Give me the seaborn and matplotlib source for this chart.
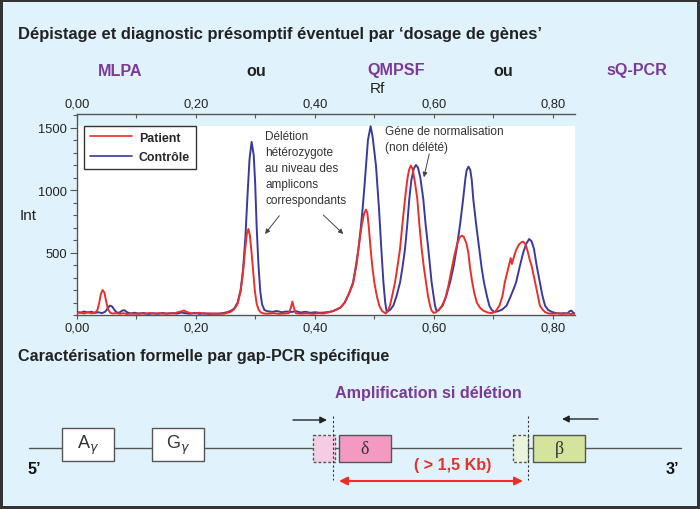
import matplotlib
matplotlib.use("Agg")
import matplotlib.pyplot as plt
from matplotlib.patches import Rectangle
from matplotlib.lines import Line2D
from matplotlib.ticker import MultipleLocator, FixedLocator, FixedFormatter
import seaborn as sns
import pandas as pd

# ---------------- data ----------------
series_names = ["Patient", "Contrôle"]

patient_rf = [0.000, 0.006, 0.012, 0.018, 0.024, 0.030, 0.034, 0.037, 0.040, 0.043, 0.046, 0.049, 0.052, 0.056,
              0.060, 0.066, 0.072, 0.078, 0.084, 0.090, 0.098, 0.106, 0.114, 0.122, 0.130, 0.138, 0.146, 0.154,
              0.162, 0.170, 0.176, 0.180, 0.184, 0.190, 0.198, 0.206, 0.214, 0.222, 0.230, 0.238, 0.246, 0.252,
              0.258, 0.264, 0.270, 0.275, 0.279, 0.2825, 0.2855, 0.288, 0.2905, 0.293, 0.296, 0.299, 0.302,
              0.305, 0.309, 0.314, 0.320, 0.330, 0.340, 0.350, 0.356, 0.359, 0.362, 0.365, 0.368, 0.376, 0.386,
              0.396, 0.406, 0.414, 0.422, 0.430, 0.436, 0.443, 0.450, 0.457, 0.464, 0.470, 0.475, 0.479, 0.4825,
              0.4857, 0.488, 0.4905, 0.4935, 0.4965, 0.4997, 0.504, 0.508, 0.513, 0.519, 0.522, 0.526, 0.530,
              0.5345, 0.539, 0.5429, 0.547, 0.5513, 0.555, 0.558, 0.561, 0.564, 0.568, 0.572, 0.5755, 0.5793,
              0.583, 0.5866, 0.590, 0.5933, 0.596, 0.599, 0.603, 0.608, 0.613, 0.619, 0.624, 0.629, 0.634, 0.639,
              0.643, 0.647, 0.650, 0.654, 0.6577, 0.6605, 0.664, 0.668, 0.672, 0.677, 0.683, 0.690, 0.697, 0.703,
              0.710, 0.715, 0.719, 0.723, 0.727, 0.729, 0.731, 0.734, 0.738, 0.743, 0.747, 0.750, 0.754, 0.758,
              0.761, 0.764, 0.767, 0.770, 0.7726, 0.775, 0.778, 0.783, 0.787, 0.793, 0.800, 0.808, 0.816, 0.824,
              0.830, 0.837]
patient_int = [15, 20, 12, 22, 14, 18, 35, 90, 165, 200, 180, 110, 45, 18,
               12, 15, 10, 14, 8, 12, 9, 14, 10, 16, 11, 15, 10, 14,
               12, 22, 30, 36, 25, 15, 12, 18, 10, 14, 9, 12, 10, 16,
               25, 45, 90, 190, 340, 520, 650, 688, 640, 520, 350, 190, 90,
               45, 20, 12, 10, 14, 9, 12, 15, 50, 107, 50, 14, 10, 13,
               9, 14, 12, 20, 32, 45, 60, 100, 170, 250, 410, 600, 730, 810,
               843, 815, 700, 528, 380, 261, 150, 75, 30, 12, 30, 75, 160,
               261, 400, 528, 730, 928, 1080, 1160, 1195, 1170, 1060, 928, 720, 528,
               380, 261, 150, 75, 35, 18, 20, 40, 70, 130, 230, 350, 470, 570,
               620, 635, 625, 580, 500, 380, 270, 170, 100, 60, 35, 20, 15, 25,
               75, 150, 261, 340, 420, 455, 408, 460, 520, 565, 582, 587, 565, 500,
               440, 395, 330, 261, 200, 140, 75, 40, 22, 12, 10, 14, 9, 12,
               8, 10]

controle_rf = [0.000, 0.006, 0.012, 0.018, 0.024, 0.030, 0.036, 0.042, 0.047, 0.051, 0.055, 0.059, 0.063, 0.067,
               0.071, 0.076, 0.080, 0.084, 0.090, 0.097, 0.104, 0.112, 0.120, 0.128, 0.136, 0.144, 0.152, 0.160,
               0.168, 0.176, 0.182, 0.190, 0.198, 0.206, 0.214, 0.222, 0.230, 0.238, 0.246, 0.252, 0.258, 0.264,
               0.270, 0.275, 0.279, 0.283, 0.2865, 0.290, 0.2935, 0.297, 0.2995, 0.302, 0.305, 0.308, 0.311,
               0.315, 0.320, 0.328, 0.336, 0.344, 0.352, 0.360, 0.368, 0.376, 0.384, 0.392, 0.400, 0.408, 0.416,
               0.424, 0.430, 0.436, 0.443, 0.450, 0.457, 0.464, 0.469, 0.473, 0.477, 0.480, 0.483, 0.4857, 0.489,
               0.4935, 0.497, 0.500, 0.5025, 0.505, 0.5076, 0.5115, 0.515, 0.518, 0.5205, 0.526, 0.5317, 0.537,
               0.543, 0.547, 0.5513, 0.555, 0.5585, 0.562, 0.566, 0.5697, 0.573, 0.577, 0.582, 0.586, 0.5905,
               0.596, 0.6017, 0.6045, 0.608, 0.6145, 0.621, 0.627, 0.633, 0.638, 0.644, 0.649, 0.653, 0.655,
               0.658, 0.661, 0.6635, 0.666, 0.671, 0.676, 0.680, 0.684, 0.689, 0.693, 0.697, 0.701, 0.708, 0.715,
               0.722, 0.728, 0.734, 0.738, 0.7445, 0.750, 0.755, 0.760, 0.764, 0.768, 0.7726, 0.778, 0.782,
               0.7866, 0.792, 0.798, 0.805, 0.812, 0.818, 0.824, 0.828, 0.831, 0.834, 0.837]
controle_int = [25, 18, 28, 20, 26, 17, 22, 15, 25, 48, 75, 68, 40, 20,
                18, 35, 38, 22, 12, 18, 10, 16, 8, 14, 9, 16, 10, 15,
                11, 20, 14, 10, 17, 9, 14, 8, 12, 10, 16, 22, 32, 50,
                100, 200, 360, 620, 950, 1250, 1385, 1280, 1050, 700, 400, 190, 85,
                40, 30, 25, 32, 22, 28, 24, 30, 20, 26, 18, 22, 18, 20,
                25, 30, 42, 60, 100, 170, 261, 400, 528, 700, 848, 1020, 1195, 1400,
                1510, 1420, 1300, 1195, 1020, 848, 528, 261, 100, 25, 40, 75, 150,
                261, 380, 528, 720, 928, 1080, 1170, 1200, 1180, 1100, 928, 720, 528,
                261, 75, 30, 40, 75, 160, 261, 390, 528, 730, 928, 1100, 1160,
                1187, 1160, 1080, 928, 720, 528, 380, 261, 150, 75, 40, 25, 30, 45,
                75, 140, 210, 261, 395, 500, 570, 608, 590, 530, 395, 261, 160,
                75, 40, 25, 15, 12, 15, 12, 30, 35, 18, 12]

x_ticks = [0.0, 0.2, 0.4, 0.6, 0.8]
x_tick_labels = ["0,00", "0,20", "0,40", "0,60", "0,80"]
y_ticks = [500, 1000, 1500]
y_tick_labels = ["500", "1000", "1500"]

methods = ["MLPA", "ou", "QMPSF", "ou", "sQ-PCR"]

# ---------------- style ----------------
BG = "#e0f3fc"
RED = "#ea2f2b"
BLUE = "#3a3a9c"
PURPLE = "#7a3a96"
AXC = "#555555"
HEAD = 11.6

sns.set_theme(style="white")
plt.rcParams["font.family"] = ["Liberation Sans", "DejaVu Sans"]
plt.rcParams["mathtext.fontset"] = "dejavusans"

W, H = 700, 510
fig = plt.figure(figsize=(7.0, 5.1), dpi=100, facecolor=BG, edgecolor="#333333", linewidth=3)

# overlay axes in pixel coordinates for the schematic / headings
ov = fig.add_axes([0, 0, 1, 1])
ov.set_xlim(0, W)
ov.set_ylim(H, 0)
ov.axis("off")

# ---------------- chart ----------------
px_l, px_r, px_b, px_top, px_white = 77, 575, 316, 115, 127
ax = fig.add_axes([px_l / W, 1 - px_b / H, (px_r - px_l) / W, (px_b - px_top) / H])
ax.set_facecolor("none")
xmax = 0.837
ymax = 1608
ax.set_xlim(0, xmax)
ax.set_ylim(0, ymax)
white_frac = (px_b - px_white) / (px_b - px_top)
ax.add_patch(Rectangle((0, 0), 1, white_frac, transform=ax.transAxes, facecolor="white",
                       edgecolor="none", zorder=0))

df = pd.concat([
    pd.DataFrame({"Rf": patient_rf, "Int": patient_int, "serie": series_names[0]}),
    pd.DataFrame({"Rf": controle_rf, "Int": controle_int, "serie": series_names[1]}),
])
sns.lineplot(data=df, x="Rf", y="Int", hue="serie", hue_order=[series_names[1], series_names[0]],
             palette={series_names[0]: RED, series_names[1]: BLUE}, estimator=None, sort=False,
             linewidth=1.4, ax=ax, legend=False, zorder=3)

for s in ["top", "right"]:
    ax.spines[s].set_visible(False)
for s in ["left", "bottom"]:
    ax.spines[s].set_color(AXC)
    ax.spines[s].set_linewidth(1.0)

ax.xaxis.set_major_locator(FixedLocator(x_ticks))
ax.xaxis.set_major_formatter(FixedFormatter(x_tick_labels))
ax.xaxis.set_minor_locator(MultipleLocator(0.1))
ax.yaxis.set_major_locator(FixedLocator(y_ticks))
ax.yaxis.set_major_formatter(FixedFormatter(y_tick_labels))
ax.yaxis.set_minor_locator(MultipleLocator(100))
ax.tick_params(axis="x", which="both", direction="out", length=3, width=0.8, color=AXC,
               labelsize=9.3, labelcolor="#222222", pad=2, bottom=True)
ax.tick_params(axis="y", which="major", direction="out", length=5, width=0.8, color=AXC,
               labelsize=9.3, labelcolor="#222222", pad=2, left=True)
ax.tick_params(axis="y", which="minor", direction="out", length=3, width=0.8, color=AXC, left=True)
ax.set_xlabel("")
ax.set_ylabel("")

sec = ax.secondary_xaxis("top")
sec.xaxis.set_major_locator(FixedLocator(x_ticks))
sec.xaxis.set_major_formatter(FixedFormatter(x_tick_labels))
sec.xaxis.set_minor_locator(MultipleLocator(0.1))
sec.tick_params(axis="x", which="both", direction="in", length=3, width=0.8, color=AXC,
                labelsize=9.3, labelcolor="#222222", pad=3)
sec.spines["top"].set_color(AXC)
sec.spines["top"].set_linewidth(1.0)

# legend
handles = [Line2D([0], [0], color=RED, lw=1.2), Line2D([0], [0], color=BLUE, lw=1.2)]
leg = ax.legend(handles, series_names, loc="upper left", bbox_to_anchor=(0.014, white_frac),
                borderaxespad=0, frameon=True, fancybox=False, handlelength=3.4, handletextpad=0.6,
                borderpad=0.45, labelspacing=0.6, prop={"weight": "bold", "size": 8.9})
leg.get_frame().set_edgecolor("#333333")
leg.get_frame().set_linewidth(1.0)
leg.get_frame().set_facecolor("white")
leg.get_frame().set_alpha(1)
leg.set_zorder(5)

# annotations
ann_kw = dict(fontsize=8.5, color="#333333", linespacing=1.45, ha="left", va="center")
ax.text(0.3165, 1176, "Délétion\nhétérozygote\nau niveau des\namplicons\ncorrespondants", **ann_kw)
ax.text(0.5176, 1408, "Géne de normalisation\n(non délété)", **ann_kw)
arrow_kw = dict(arrowstyle="-|>", color="#444444", lw=0.7, mutation_scale=7, shrinkA=0, shrinkB=0)
ax.annotate("", xy=(0.316, 648), xytext=(0.340, 794), arrowprops=arrow_kw)
ax.annotate("", xy=(0.4476, 648), xytext=(0.414, 800), arrowprops=arrow_kw)
ax.annotate("", xy=(0.583, 1102), xytext=(0.592, 1288), arrowprops=arrow_kw)

fig.text(377 / W, 1 - 89 / H, "Rf", fontsize=11, ha="center", va="center", color="#222222")
fig.text(28 / W, 1 - 216 / H, "Int", fontsize=11, ha="center", va="center", color="#222222")

# ---------------- headings ----------------
ov.text(18, 35, "Dépistage et diagnostic présomptif éventuel par ‘dosage de gènes’",
        fontsize=11.85, fontweight="bold", color="#222222", ha="left", va="center")
method_x = [120, 256, 396, 503, 637]
for name, mx in zip(methods, method_x):
    ov.text(mx, 71, name, fontsize=HEAD, fontweight="bold",
            color="#222222" if name == "ou" else PURPLE, ha="center", va="center")

ov.text(18, 357, "Caractérisation formelle par gap-PCR spécifique",
        fontsize=HEAD, fontweight="bold", color="#222222", ha="left", va="center")
ov.text(428, 394, "Amplification si délétion", fontsize=11.6, fontweight="bold",
        color=PURPLE, ha="center", va="center")

# ---------------- schematic ----------------
LC = "#555555"
ov.plot([29, 681], [449, 449], color=LC, lw=1.0, zorder=1)
for (x0, x1, y0, y1, fc, ls, lab) in [
    (62, 114, 429, 462, "white", "-", r"A$_\gamma$"),
    (152, 204, 429, 462, "white", "-", r"G$_\gamma$"),
    (313, 335, 436, 463, "#f4cde2", (0, (2, 1.5)), None),
    (339, 391, 436, 463, "#f49ac2", "-", "δ"),
    (513, 528, 436, 463, "#eaf3dc", (0, (2, 1.5)), None),
    (533, 585, 436, 463, "#d4e49c", "-", "β"),
]:
    ov.add_patch(Rectangle((x0, y0), x1 - x0, y1 - y0, facecolor=fc, edgecolor=LC,
                           lw=1.0, linestyle=ls, zorder=2))
    if lab is not None:
        fam = ["Liberation Serif", "DejaVu Serif"] if lab in ("δ", "β") else ["Liberation Sans", "DejaVu Sans"]
        ov.text((x0 + x1) / 2, (y0 + y1) / 2, lab, fontsize=13, family=fam, color="#333333",
                ha="center", va="center", zorder=3)

for xd in (333, 528):
    ov.plot([xd, xd], [417, 481], color="#333333", lw=0.8, linestyle=(0, (2, 2)), zorder=3)

blk = dict(arrowstyle="-|>", color="#222222", lw=1.0, mutation_scale=10, shrinkA=0, shrinkB=0)
ov.annotate("", xy=(327, 421), xytext=(293, 421), arrowprops=blk)
ov.annotate("", xy=(562, 420), xytext=(598, 420), arrowprops=blk)
ov.annotate("", xy=(523, 482), xytext=(339, 482),
            arrowprops=dict(arrowstyle="<|-|>", color=RED, lw=1.5, mutation_scale=12, shrinkA=0, shrinkB=0))
ov.text(453, 466, "( > 1,5 Kb)", fontsize=11.6, fontweight="bold", color=RED, ha="center", va="center")
ov.text(34, 470, "5’", fontsize=11.6, fontweight="bold", color="#111111", ha="center", va="center")
ov.text(672, 470, "3’", fontsize=11.6, fontweight="bold", color="#111111", ha="center", va="center")

fig.savefig("out.png", dpi=100, facecolor=fig.get_facecolor(), edgecolor=fig.get_edgecolor())
